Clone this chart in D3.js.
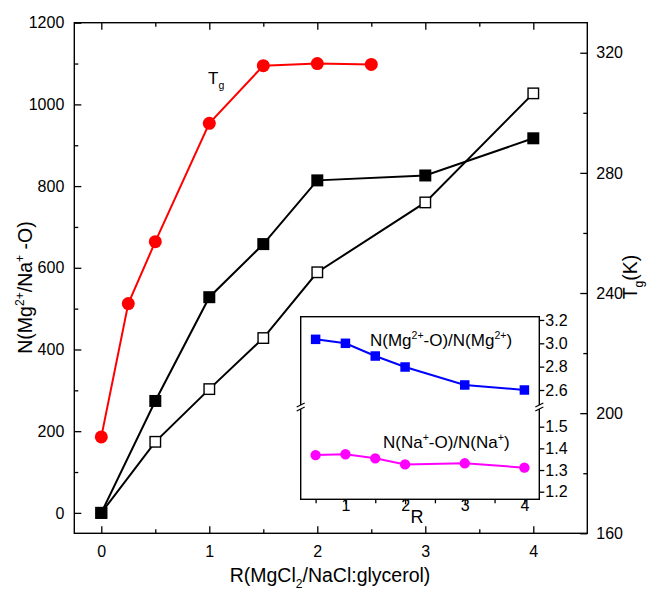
<!DOCTYPE html>
<html>
<head>
<meta charset="utf-8">
<script src="https://cdn.jsdelivr.net/npm/d3@7"></script>
<style>
  body { margin: 0; background: #fff; }
</style>
</head>
<body>
<script>
// ---- data -------------------------------------------------------------
// glass transition temperature vs. R (right axis, K)
const rTg = [0, 0.25, 0.5, 1, 1.5, 2, 2.5];
const tgValues = [192.1, 236.5, 257.1, 296.5, 315.7, 316.4, 316.1];

// coordination counts vs. R (left axis)
const rCoord = [0, 0.5, 1, 1.5, 2, 3, 4];
const coordSolid = [0, 274, 528, 658, 814, 826, 917];
const coordOpen = [0, 174, 303, 428, 589, 760, 1027];

// inset: per-ion coordination numbers vs. R
const rInset = [0.5, 1, 1.5, 2, 3, 4];
const mgPerIon = [3.034, 3.0, 2.891, 2.797, 2.643, 2.60];
const naPerIon = [1.369, 1.373, 1.354, 1.326, 1.331, 1.311];

// tick values
const xMajor = [0, 1, 2, 3, 4];
const xMinor = [0.5, 1.5, 2.5, 3.5];
const yLeftMajor = [0, 200, 400, 600, 800, 1000, 1200];
const yLeftMinor = [100, 300, 500, 700, 900, 1100];
const yRightMajor = [160, 200, 240, 280, 320];
const yRightMinor = [180, 220, 260, 300];
const insetXMajor = [1, 2, 3, 4];
const insetXMinor = [0.5, 1.5, 2.5, 3.5];
const insetUpperTicks = [2.6, 2.8, 3.0, 3.2];
const insetLowerTicks = [1.2, 1.3, 1.4, 1.5];

// ---- setup ------------------------------------------------------------
const W = 651, H = 590;
const FONT = '"Liberation Sans", Arial, Helvetica, sans-serif';
const svg = d3.select("body").append("svg")
  .attr("width", W).attr("height", H)
  .style("font-family", FONT);

const frame = { l: 74.3, r: 587.3, t: 22.7, b: 533.3 };
const x = d3.scaleLinear([-0.25, 4.5], [frame.l, frame.r]);
const yL = d3.scaleLinear([-50, 1200], [frame.b, frame.t]);
const yR = d3.scaleLinear([160, 330], [frame.b, frame.t]);

function drawAxis(gen, tx, ty, values, size, pad, fmt, fs) {
  const g = svg.append("g").attr("transform", `translate(${tx},${ty})`)
    .call(gen.tickValues(values).tickSize(size).tickPadding(pad).tickFormat(fmt));
  g.select(".domain").remove();
  g.selectAll("line").attr("stroke", "#000").attr("stroke-width", 1.3);
  g.selectAll("text").attr("font-family", FONT).attr("font-size", fs).attr("fill", "#000");
  return g;
}

// rich text helper: segments with optional super/subscript
function richText(sel, parts, fs) {
  const t = sel.attr("font-size", fs).attr("fill", "#000");
  let shift = 0;
  parts.forEach(p => {
    const target = p.sup ? -0.42 * fs : p.sub ? 0.32 * fs : 0;
    const ts = t.append("tspan").text(p.t).attr("dy", target - shift);
    if (p.sup || p.sub) ts.attr("font-size", fs * 0.62);
    shift = target;
  });
  return t;
}

// ---- main frame & axes ------------------------------------------------
svg.append("rect")
  .attr("x", frame.l).attr("y", frame.t)
  .attr("width", frame.r - frame.l).attr("height", frame.b - frame.t)
  .attr("fill", "none").attr("stroke", "#000").attr("stroke-width", 1.4);

const fmtNone = () => "";
drawAxis(d3.axisBottom(x), 0, frame.b, xMajor, -7, 12.7, d3.format("d"), 16);
drawAxis(d3.axisBottom(x), 0, frame.b, xMinor, -4, 0, fmtNone, 16);
drawAxis(d3.axisTop(x), 0, frame.t, xMajor, -7, 0, fmtNone, 16);
drawAxis(d3.axisTop(x), 0, frame.t, xMinor, -4, 0, fmtNone, 16);
drawAxis(d3.axisLeft(yL), frame.l, 0, yLeftMajor, -7, 10, d3.format("d"), 16);
drawAxis(d3.axisLeft(yL), frame.l, 0, yLeftMinor, -4, 0, fmtNone, 16);
drawAxis(d3.axisRight(yR), frame.r, 0, yRightMajor, -7, 9, d3.format("d"), 16);
drawAxis(d3.axisRight(yR), frame.r, 0, yRightMinor, -4, 0, fmtNone, 16);

// ---- main series ------------------------------------------------------
const lineL = d3.line().x(d => x(d[0])).y(d => yL(d[1]));
const lineR = d3.line().x(d => x(d[0])).y(d => yR(d[1]));

const openPts = rCoord.map((r, i) => [r, coordOpen[i]]);
const solidPts = rCoord.map((r, i) => [r, coordSolid[i]]);
const tgPts = rTg.map((r, i) => [r, tgValues[i]]);

svg.append("path").attr("d", lineL(openPts))
  .attr("fill", "none").attr("stroke", "#000").attr("stroke-width", 2);
svg.append("path").attr("d", lineL(solidPts))
  .attr("fill", "none").attr("stroke", "#000").attr("stroke-width", 2);
svg.append("path").attr("d", lineR(tgPts))
  .attr("fill", "none").attr("stroke", "#ff0000").attr("stroke-width", 2);

const sqOpen = 10.5, sqSolid = 12;
svg.append("g").selectAll("rect").data(openPts).join("rect")
  .attr("x", d => x(d[0]) - sqOpen / 2).attr("y", d => yL(d[1]) - sqOpen / 2)
  .attr("width", sqOpen).attr("height", sqOpen)
  .attr("fill", "#fff").attr("stroke", "#000").attr("stroke-width", 1.4);
svg.append("g").selectAll("rect").data(solidPts).join("rect")
  .attr("x", d => x(d[0]) - sqSolid / 2).attr("y", d => yL(d[1]) - sqSolid / 2)
  .attr("width", sqSolid).attr("height", sqSolid)
  .attr("fill", "#000");
svg.append("g").selectAll("circle").data(tgPts).join("circle")
  .attr("cx", d => x(d[0])).attr("cy", d => yR(d[1])).attr("r", 6.5)
  .attr("fill", "#ff0000");

// Tg series label
richText(svg.append("text").attr("x", 208).attr("y", 83.5),
  [{ t: "T" }, { t: "g", sub: true }], 17);

// ---- axis titles ------------------------------------------------------
richText(svg.append("text").attr("x", 330).attr("y", 582).attr("text-anchor", "middle"),
  [{ t: "R(MgCl" }, { t: "2", sub: true }, { t: "/NaCl:glycerol)" }], 19.5);

richText(svg.append("text").attr("text-anchor", "middle")
  .attr("transform", "translate(31.7,287.5) rotate(-90)"),
  [{ t: "N(Mg" }, { t: "2+", sup: true }, { t: "/Na" }, { t: "+", sup: true }, { t: " -O)" }], 19.5);

richText(svg.append("text").attr("text-anchor", "middle")
  .attr("transform", "translate(637,277) rotate(-90)"),
  [{ t: "T" }, { t: "g", sub: true }, { t: "(K)" }], 19.5);

// ---- inset ------------------------------------------------------------
const ins = { l: 300.7, r: 539.3, t: 316.7, b: 499.3, brk: 407 };
const xi = d3.scaleLinear([0.25, 4.25], [ins.l, ins.r]);
const yUp = d3.scaleLinear([2.6, 3.0], [390, 343.3]);
const yLo = d3.scaleLinear([1.2, 1.5], [491.7, 426.7]);

svg.append("rect")
  .attr("x", ins.l).attr("y", ins.t)
  .attr("width", ins.r - ins.l).attr("height", ins.b - ins.t)
  .attr("fill", "#fff").attr("stroke", "#000").attr("stroke-width", 1.4);

drawAxis(d3.axisBottom(xi), 0, ins.b, insetXMajor, 5, -5, d3.format("d"), 16);
drawAxis(d3.axisBottom(xi), 0, ins.b, insetXMinor, 4, 0, fmtNone, 16);
drawAxis(d3.axisRight(yUp), ins.r, 0, insetUpperTicks, 5, 1, d3.format(".1f"), 16);
drawAxis(d3.axisRight(yLo), ins.r, 0, insetLowerTicks, 5, 1, d3.format(".1f"), 16);

// axis-break marks on both inset borders
[ins.l, ins.r].forEach(bx => {
  const g = svg.append("g");
  g.append("rect").attr("x", bx - 2).attr("y", ins.brk - 2).attr("width", 4).attr("height", 4)
    .attr("fill", "#fff");
  [-2, 2].forEach(off => {
    g.append("line")
      .attr("x1", bx - 4).attr("y1", ins.brk + off + 2)
      .attr("x2", bx + 4).attr("y2", ins.brk + off - 2)
      .attr("stroke", "#000").attr("stroke-width", 1.2);
  });
});

const lineUp = d3.line().x(d => xi(d[0])).y(d => yUp(d[1]));
const lineLo = d3.line().x(d => xi(d[0])).y(d => yLo(d[1]));
const mgPts = rInset.map((r, i) => [r, mgPerIon[i]]);
const naPts = rInset.map((r, i) => [r, naPerIon[i]]);

svg.append("path").attr("d", lineUp(mgPts))
  .attr("fill", "none").attr("stroke", "#0000ff").attr("stroke-width", 2);
svg.append("path").attr("d", lineLo(naPts))
  .attr("fill", "none").attr("stroke", "#ff00ff").attr("stroke-width", 2);

const sqIn = 9.5;
svg.append("g").selectAll("rect").data(mgPts).join("rect")
  .attr("x", d => xi(d[0]) - sqIn / 2).attr("y", d => yUp(d[1]) - sqIn / 2)
  .attr("width", sqIn).attr("height", sqIn).attr("fill", "#0000ff");
svg.append("g").selectAll("circle").data(naPts).join("circle")
  .attr("cx", d => xi(d[0])).attr("cy", d => yLo(d[1])).attr("r", 5.2)
  .attr("fill", "#ff00ff");

richText(svg.append("text").attr("x", 370).attr("y", 346),
  [{ t: "N(Mg" }, { t: "2+", sup: true }, { t: "-O)/N(Mg" }, { t: "2+", sup: true }, { t: ")" }], 17);
richText(svg.append("text").attr("x", 383).attr("y", 448.3),
  [{ t: "N(Na" }, { t: "+", sup: true }, { t: "-O)/N(Na" }, { t: "+", sup: true }, { t: ")" }], 17);

svg.append("text").attr("x", xi(2.2)).attr("y", 523).attr("text-anchor", "middle")
  .attr("font-size", 18).attr("fill", "#000").text("R");
</script>
</body>
</html>
